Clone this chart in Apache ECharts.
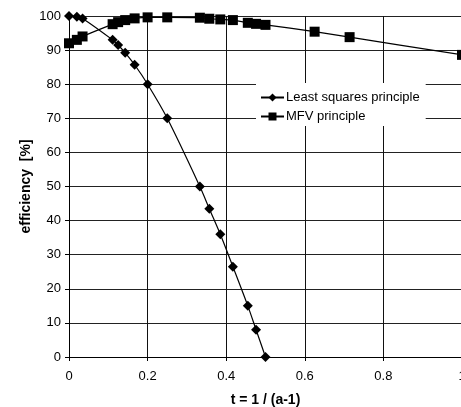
<!DOCTYPE html>
<html><head><meta charset="utf-8">
<script src="https://cdn.jsdelivr.net/npm/echarts@6/dist/echarts.min.js"></script>
<style>html,body{margin:0;padding:0;background:#fff}#c{width:461px;height:407px}</style>
</head><body><div id="c"></div>
<script>
const tLS = [0, 0.02, 0.0345, 0.111, 0.125, 0.143, 0.167, 0.2, 0.25, 0.333, 0.357, 0.385, 0.417, 0.455, 0.476, 0.5];
const effLS = [100, 99.8, 99.3, 93, 91.5, 89.2, 85.7, 80, 70, 50, 43.5, 36, 26.5, 15, 8, 0];
const tMFV = [0, 0.02, 0.0345, 0.111, 0.125, 0.143, 0.167, 0.2, 0.25, 0.333, 0.357, 0.385, 0.417, 0.455, 0.476, 0.5, 0.625, 0.714, 1];
const effMFV = [92, 93, 94, 97.6, 98.2, 98.8, 99.3, 99.6, 99.6, 99.5, 99.2, 99, 98.8, 98, 97.7, 97.4, 95.4, 93.8, 88.6];
const seriesNames = ['Least squares principle', 'MFV principle'];
const xTitle = 't = 1 / (a-1)';
const yTitle = 'efficiency  [%]';

const font = 'Liberation Sans, Arial, sans-serif';
const chart = echarts.init(document.getElementById('c'));
chart.setOption({
  animation: false,
  textStyle: { fontFamily: font },
  grid: { left: 69, right: -1, top: 16, bottom: 50, containLabel: false, outerBoundsMode: 'none' },
  xAxis: {
    type: 'value', min: 0, max: 1, interval: 0.2,
    name: xTitle, nameLocation: 'middle', nameGap: 36, nameMoveOverlap: false,
    nameTextStyle: { fontFamily: font, fontSize: 14, fontWeight: 'bold', color: '#000' },
    axisLine: { onZero: false, lineStyle: { color: '#000', width: 1 } },
    axisTick: { show: true, length: 4, inside: false, lineStyle: { color: '#000' } },
    axisLabel: { color: '#000', fontSize: 13, fontFamily: font, margin: 13 },
    splitLine: { show: true, lineStyle: { color: '#111', width: 1 } }
  },
  yAxis: {
    type: 'value', min: 0, max: 100, interval: 10,
    name: yTitle, nameLocation: 'middle', nameGap: 36, nameRotate: 90, nameMoveOverlap: false,
    nameTextStyle: { fontFamily: font, fontSize: 14, fontWeight: 'bold', color: '#000' },
    axisLine: { show: true, lineStyle: { color: '#000', width: 1 } },
    axisTick: { show: true, length: 4, lineStyle: { color: '#000' } },
    axisLabel: { color: '#000', fontSize: 13, fontFamily: font, margin: 8 },
    splitLine: { show: true, lineStyle: { color: '#222', width: 1 } }
  },
  legend: {
    orient: 'vertical', left: 256, top: 83,
    backgroundColor: '#fff', padding: [8, 6, 3, 4],
    itemWidth: 23, itemHeight: 10, itemGap: 6,
    textStyle: { fontFamily: font, fontSize: 13, color: '#000', padding: [0, 0, 0, -3] },
    data: seriesNames
  },
  series: [
    {
      name: seriesNames[0], type: 'line', smooth: 0.3,
      data: tLS.map((t, i) => [t, effLS[i]]),
      symbol: 'diamond', symbolSize: 10, clip: false,
      lineStyle: { color: '#000', width: 1.2 },
      itemStyle: { color: '#000' }
    },
    {
      name: seriesNames[1], type: 'line', smooth: 0.3,
      data: tMFV.map((t, i) => [t, effMFV[i]]),
      symbol: 'rect', symbolSize: 10, clip: false,
      lineStyle: { color: '#000', width: 1.2 },
      itemStyle: { color: '#000' }
    }
  ]
});
</script>
</body></html>
